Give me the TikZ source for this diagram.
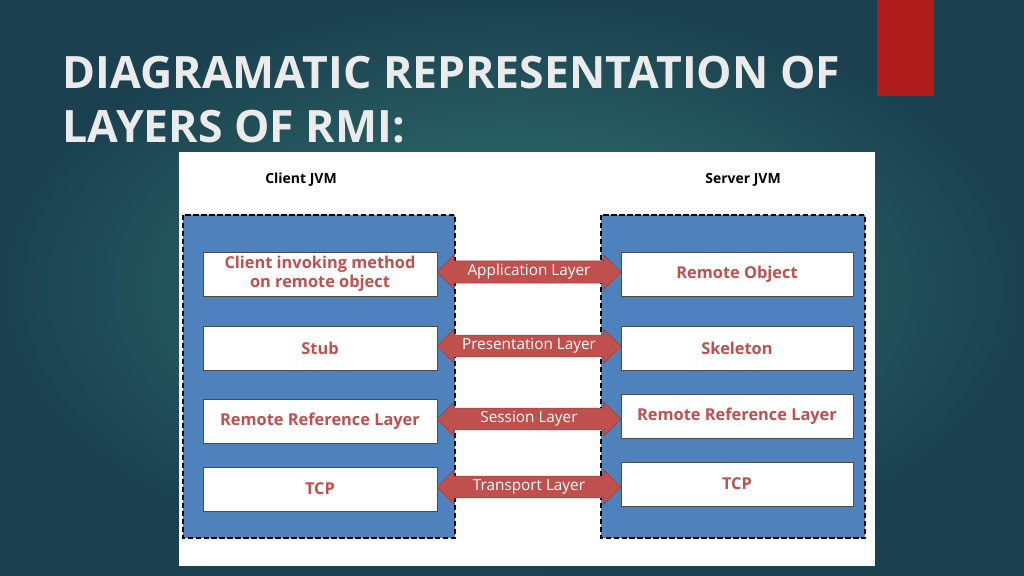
\documentclass[tikz,border=0pt]{standalone}
\usepackage{fontspec}
\setmainfont{Open Sans}
\usetikzlibrary{shapes.arrows}
\definecolor{bgin}{HTML}{347A72}
\definecolor{bgout}{HTML}{1B4150}
\definecolor{rmired}{HTML}{C0504D}
\definecolor{rmiblue}{HTML}{4F81BD}
\definecolor{accent}{HTML}{B01C1C}
\tikzset{
  jvm/.style={draw=black, fill=rmiblue, dash pattern=on 4pt off 2pt, line width=1.2pt},
  layer/.style={draw=black!70, fill=white, line width=0.6pt, minimum height=44*0.0264cm,
    text=rmired, font=\bfseries\fontsize{12.3}{14}\selectfont, align=center, inner sep=1pt},
  lbox/.style={layer, minimum width=234*0.0264cm},
  rbox/.style={layer, minimum width=232*0.0264cm},
  link/.style={double arrow, draw=rmired!80!black, fill=rmired, minimum width=34*0.0264cm,
    double arrow head extend=5*0.0264cm, minimum height=184*0.0264cm, inner sep=1pt,
    text=white, font=\fontsize{11.5}{13}\selectfont},
  hdr/.style={font=\bfseries\fontsize{10.5}{12}\selectfont, text=black}
}
\begin{document}
\begin{tikzpicture}[x=0.0264cm, y=-0.0264cm]
\shade[inner color=bgin, outer color=bgout] (0,0) rectangle (1024,576);
\useasboundingbox (0,0) rectangle (1024,576);
\fill[accent] (877,0) rectangle (934,96);
\node[anchor=west, text=white!92!black, font=\bfseries\fontsize{33.5}{38}\selectfont] (t1) at (58,73) {DIAGRAMATIC REPRESENTATION OF};
\node[anchor=west, text=white!92!black, font=\bfseries\fontsize{33.5}{38}\selectfont] (t2) at (58,127) {LAYERS OF RMI:};
\fill[white] (179,152) rectangle (875,566);
\node[hdr] (cj) at (301,180) {Client JVM};
\node[hdr] (sj) at (743,180) {Server JVM};
\draw[jvm] (183,215) rectangle (455,538);
\draw[jvm] (601,215) rectangle (865,538);
\node[lbox] (l1) at (320,274) {Client invoking method\\on remote object};
\node[lbox] (l2) at (320,348) {Stub};
\node[lbox] (l3) at (320,421) {Remote Reference Layer};
\node[lbox] (l4) at (320,489) {TCP};
\node[rbox] (r1) at (737,274) {Remote Object};
\node[rbox] (r2) at (737,348) {Skeleton};
\node[rbox] (r3) at (737,416) {Remote Reference Layer};
\node[rbox] (r4) at (737,484) {TCP};
\node[link] (a1) at (529,272) {Application Layer};
\node[link] (a2) at (529,346) {Presentation Layer};
\node[link] (a3) at (529,419) {Session Layer};
\node[link] (a4) at (529,487) {Transport Layer};
\end{tikzpicture}
\end{document}
